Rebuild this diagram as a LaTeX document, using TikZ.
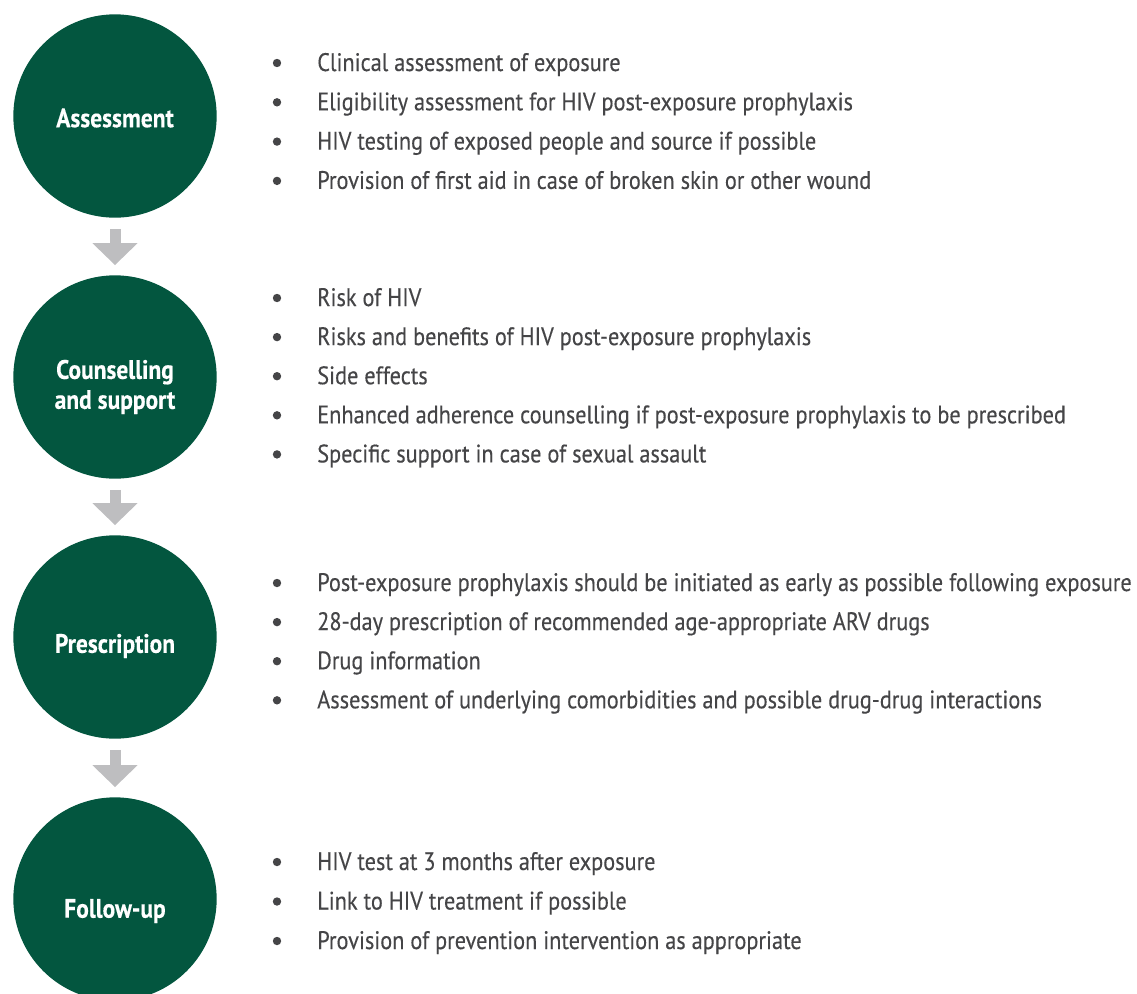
\documentclass[tikz,border=0pt]{standalone}
\usepackage{fontspec}
\setmainfont{PT Sans}[FakeStretch=0.88, FakeBold=0.3]
\usepackage{xcolor}
\usepackage{tikz}
\usetikzlibrary{arrows.meta}
\definecolor{stepgreen}{HTML}{03563F}
\definecolor{arrowgrey}{HTML}{BEBEC0}
\definecolor{textgrey}{HTML}{454547}

\begin{document}
\begin{tikzpicture}[
    x=0.75pt, y=-0.75pt,
    stage/.style={circle, fill=stepgreen, minimum size=152.5pt, inner sep=0pt},
    label/.style={text=white, font=\fontsize{20}{22.5}\selectfont\bfseries, align=center},
    item/.style={anchor=base west, text=textgrey, inner sep=0pt, font=\fontsize{19}{21}\selectfont},
    dot/.style={fill=textgrey, draw=none},
    arr/.style={-{Triangle[width=33pt, length=16.5pt]}, line width=8.25pt, draw=arrowgrey, shorten <=8.25pt, shorten >=7.5pt}
]
\useasboundingbox (0,0) rectangle (1137,993);
\node[stage] (S1) at (115,116) {};
\node[stage] (S2) at (115,377) {};
\node[stage] (S3) at (115,637) {};
\node[stage] (S4) at (115,899) {};
\node[label] (T1) at (115,118) {Assessment};
\node[label] (T2) at (115,387) {Counselling\\and support};
\node[label] (T3) at (115,646) {Prescription};
\node[label] (T4) at (115,911) {Follow-up};
\draw[arr] (S1) -- (S2);
\draw[arr] (S2) -- (S3);
\draw[arr] (S3) -- (S4);
\foreach \txt [count=\i] in {Clinical assessment of exposure,
    Eligibility assessment for HIV post-exposure prophylaxis,
    HIV testing of exposed people and source if possible,
    Provision of first aid in case of broken skin or other wound} {
  \fill[dot] (277,{63+(\i-1)*39.3}) circle (4.2);
  \node[item] (A\i) at (317,{71+(\i-1)*39.3}) {\txt};
}
\foreach \txt [count=\i] in {Risk of HIV,
    Risks and benefits of HIV post-exposure prophylaxis,
    Side effects,
    Enhanced adherence counselling if post-exposure prophylaxis to be prescribed,
    Specific support in case of sexual assault} {
  \fill[dot] (277,{298+(\i-1)*39.1}) circle (4.2);
  \node[item] (B\i) at (317,{306+(\i-1)*39.1}) {\txt};
}
\foreach \txt [count=\i] in {Post-exposure prophylaxis should be initiated as early as possible following exposure,
    28-day prescription of recommended age-appropriate ARV drugs,
    Drug information,
    Assessment of underlying comorbidities and possible drug-drug interactions} {
  \fill[dot] (277,{583+(\i-1)*39.1}) circle (4.2);
  \node[item] (C\i) at (317,{591+(\i-1)*39.1}) {\txt};
}
\foreach \txt [count=\i] in {HIV test at 3 months after exposure,
    Link to HIV treatment if possible,
    Provision of prevention intervention as appropriate} {
  \fill[dot] (277,{862+(\i-1)*39.5}) circle (4.2);
  \node[item] (D\i) at (317,{870+(\i-1)*39.5}) {\txt};
}
\end{tikzpicture}
\end{document}
